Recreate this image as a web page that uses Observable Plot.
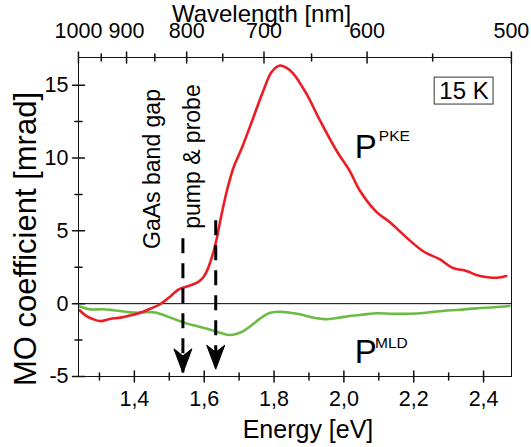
<!DOCTYPE html>
<html><head><meta charset="utf-8">
<script src="https://cdn.jsdelivr.net/npm/d3@7"></script>
<script src="https://cdn.jsdelivr.net/npm/@observablehq/plot@0.6"></script>
<style>body{margin:0;background:#fff}</style>
</head><body><div id="chart"></div>
<script>
const HC = 1239.84;
const energyPKE = [1.243,1.26,1.28,1.303,1.33,1.36,1.39,1.417,1.445,1.474,1.503,1.525,1.546,1.565,1.583,1.597,1.608,1.618,1.627,1.637,1.646,1.665,1.684,1.708,1.741,1.769,1.793,1.817,1.835,1.855,1.893,1.931,1.979,2.017,2.046,2.093,2.131,2.179,2.227,2.274,2.312,2.351,2.379,2.417,2.445,2.465];
const valuePKE = [-0.45,-0.8,-1.05,-1.2,-1.05,-0.96,-0.8,-0.62,-0.35,-0.04,0.5,0.95,1.15,1.3,1.5,1.8,2.25,2.9,3.6,4.6,5.7,7.75,9.35,10.7,12.8,14.6,15.9,16.35,16.2,15.8,14.4,12.6,10.5,9.1,7.75,6.3,5.6,4.55,3.6,3.05,2.45,2.25,1.97,1.8,1.8,1.9];
const energyMLD = [1.243,1.274,1.311,1.34,1.36,1.385,1.408,1.435,1.46,1.48,1.503,1.527,1.551,1.575,1.597,1.62,1.646,1.674,1.695,1.712,1.732,1.751,1.77,1.789,1.817,1.845,1.874,1.91,1.951,1.98,2.017,2.055,2.094,2.14,2.189,2.235,2.283,2.33,2.38,2.43,2.474];
const valueMLD = [-0.2,-0.39,-0.38,-0.45,-0.5,-0.58,-0.62,-0.58,-0.6,-0.75,-0.96,-1.17,-1.37,-1.52,-1.65,-1.8,-2.0,-2.15,-2.05,-1.88,-1.55,-1.19,-0.85,-0.62,-0.55,-0.62,-0.73,-0.95,-1.07,-0.98,-0.85,-0.75,-0.66,-0.7,-0.69,-0.62,-0.5,-0.42,-0.32,-0.25,-0.16];
const energyTicks = [1.4,1.6,1.8,2.0,2.2,2.4];
const energyMinor = [1.3,1.5,1.7,1.9,2.1,2.3];
const wavelengthTicks = [1000,900,800,700,600,500];
const wavelengthMinor = [950,850,750,650,550];
const yTicks = [-5,0,5,10,15];
const yMinor = [-2.5,2.5,7.5,12.5];
const markerEnergy = [1.539,1.633];
const markerTop = [4.45,5.7];
const markerTip = [-4.75,-4.5];

const pke = energyPKE.map((e,i)=>({e, v:valuePKE[i]}));
const mld = energyMLD.map((e,i)=>({e, v:valueMLD[i]}));
const markers = markerEnergy.map((e,i)=>({e, top:markerTop[i], tip:markerTip[i]}));

const tickShape = {draw(ctx,l){ctx.moveTo(0,-l/2);ctx.lineTo(0,l/2);}};
const arrowHead = {draw(ctx){ctx.moveTo(0,0);ctx.lineTo(-9,-24);ctx.lineTo(0,-17);ctx.lineTo(9,-24);ctx.closePath();}};
const fmtE = d => d.toFixed(1).replace(".", ",");
const red = "#ec1c24", green = "#6cbb45";

const svg = Plot.plot({
  width: 531, height: 447,
  marginLeft: 78, marginRight: 20, marginTop: 57, marginBottom: 71,
  x: {domain: [1.24, 2.48], axis: null},
  y: {domain: [-5, 16.9], axis: null},
  style: {fontFamily: "'Liberation Sans', Arial, sans-serif", background: "#fff", color: "#000"},
  marks: [
    Plot.ruleY([0], {stroke: "#000", strokeWidth: 1}),
    Plot.line(mld, {x: "e", y: "v", stroke: green, strokeWidth: 2.6, curve: "catmull-rom"}),
    Plot.line(pke, {x: "e", y: "v", stroke: red, strokeWidth: 2.6, curve: "catmull-rom"}),
    Plot.frame({stroke: "#111", strokeWidth: 1}),
    Plot.vector(energyTicks, {x: d=>d, frameAnchor: "bottom", length: 11, rotate: 0, anchor: "start", shape: tickShape, stroke: "#111"}),
    Plot.vector(energyMinor, {x: d=>d, frameAnchor: "bottom", length: 7, rotate: 0, anchor: "start", shape: tickShape, stroke: "#111"}),
    Plot.vector(wavelengthTicks, {x: w=>HC/w, frameAnchor: "top", length: 11, rotate: 0, anchor: "start", shape: tickShape, stroke: "#111"}),
    Plot.vector(wavelengthMinor, {x: w=>HC/w, frameAnchor: "top", length: 7, rotate: 0, anchor: "start", shape: tickShape, stroke: "#111"}),
    Plot.vector(yTicks, {y: d=>d, frameAnchor: "left", length: 12, rotate: 90, anchor: "start", shape: tickShape, stroke: "#111"}),
    Plot.vector(yMinor, {y: d=>d, frameAnchor: "left", length: 7, rotate: 90, anchor: "start", shape: tickShape, stroke: "#111"}),
    Plot.text(energyTicks, {x: d=>d, frameAnchor: "bottom", dy: 29, lineAnchor: "bottom", text: fmtE, fontSize: 21.5}),
    Plot.text(wavelengthTicks, {x: w=>HC/w, frameAnchor: "top", dy: -19.5, lineAnchor: "bottom", text: w=>String(w), fontSize: 21.5}),
    Plot.text(yTicks, {y: d=>d, frameAnchor: "left", dx: -10, textAnchor: "end", lineAnchor: "middle", text: d=>String(d), fontSize: 21.5}),
    Plot.text(["Energy [eV]"], {frameAnchor: "bottom", dx: 13, dy: 61, lineAnchor: "bottom", fontSize: 25}),
    Plot.text(["Wavelength [nm]"], {frameAnchor: "top", dx: -33.5, dy: -36, lineAnchor: "bottom", fontSize: 24}),
    Plot.text(["MO coefficient [mrad]"], {frameAnchor: "left", dx: -52, dy: 22, rotate: -90, textAnchor: "middle", lineAnchor: "middle", fontSize: 31}),
    Plot.ruleX(markers, {x: "e", y1: "top", y2: "tip", stroke: "#000", strokeWidth: 3, strokeDasharray: "15,10"}),
    Plot.dot(markers, {x: "e", y: "tip", symbol: arrowHead, r: 10, fill: "#000", stroke: "#000", strokeWidth: 1}),
    Plot.text(["GaAs band gap"], {x: 1.4533, y: 3.76, rotate: -90, textAnchor: "start", lineAnchor: "middle", fontSize: 23}),
    Plot.text(["pump & probe"], {x: 1.5679, y: 5.14, rotate: -90, textAnchor: "start", lineAnchor: "middle", fontSize: 23}),
    Plot.text(["P"], {x: 2.0314, y: 10.02, textAnchor: "start", lineAnchor: "bottom", fontSize: 33}),
    Plot.text(["PKE"], {x: 2.100, y: 11.19, textAnchor: "start", lineAnchor: "bottom", fontSize: 15.5}),
    Plot.text(["P"], {x: 2.0314, y: -4.06, textAnchor: "start", lineAnchor: "bottom", fontSize: 33}),
    Plot.text(["MLD"], {x: 2.089, y: -3.05, textAnchor: "start", lineAnchor: "bottom", fontSize: 15.5}),
    Plot.rect([0], {x1: 2.26, x2: 2.4286, y1: 13.67, y2: 15.52, fill: "#fff", stroke: "#333", strokeWidth: 1}),
    Plot.text(["15 K"], {x: 2.344, y: 14.6, textAnchor: "middle", lineAnchor: "middle", fontSize: 24})
  ]
});
document.getElementById("chart").appendChild(svg);
</script></body></html>
